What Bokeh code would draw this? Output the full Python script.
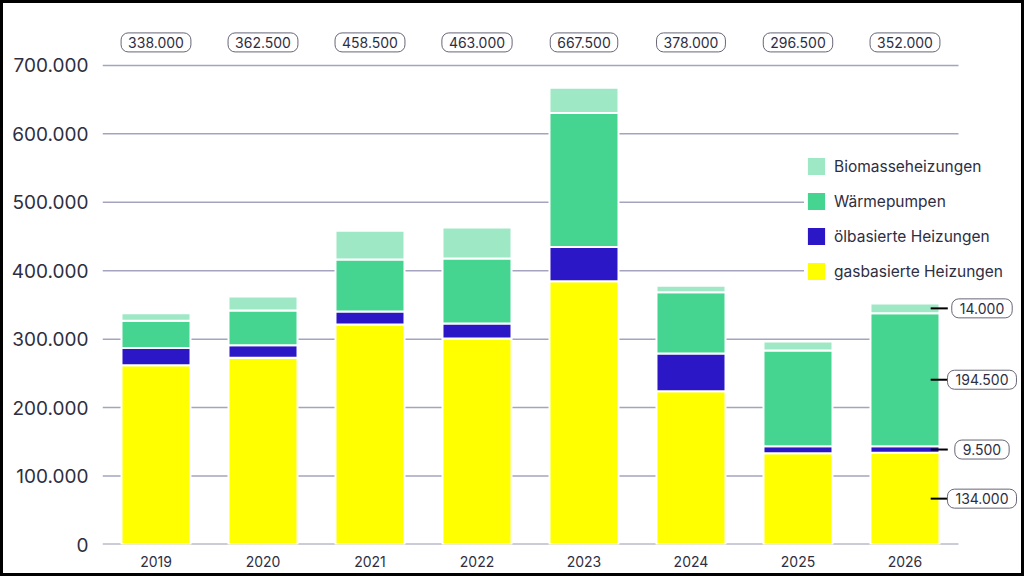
import numpy as np
from bokeh.plotting import figure
from bokeh.models import (Range1d, FixedTicker, CustomJSTickFormatter,
                          Legend, LegendItem, Label, ColumnDataSource)
from bokeh.embed import file_html
from bokeh.resources import INLINE

# ---- data ----
years = ["2019", "2020", "2021", "2022", "2023", "2024", "2025", "2026"]
gas = [262000, 273000, 321500, 301000, 384500, 224000, 133500, 134000]
oil = [25000, 18000, 19000, 22000, 50000, 55000, 10000, 9500]
heatpumps = [40000, 51000, 76000, 95000, 196000, 89500, 140000, 194500]
biomass = [11000, 20500, 42000, 45000, 37000, 9500, 13000, 14000]
totals = [338000, 362500, 458500, 463000, 667500, 378000, 296500, 352000]

series_keys = ["gas", "oil", "heatpumps", "biomass"]
series_names = ["gasbasierte Heizungen", "ölbasierte Heizungen", "Wärmepumpen", "Biomasseheizungen"]
y_ticks = [0, 100000, 200000, 300000, 400000, 500000, 600000, 700000]

colors = ["#ffff00", "#2c17c6", "#46d491", "#9ee8c5"]
FONT = "Inter"
TXT = "#2e2e42"
GRID = "#a4a4c0"

def de_fmt(v):
    return f"{int(round(v)):,}".replace(",", ".")

n = len(years)
BAR_W = 0.645
xpos = [i + 0.5 for i in range(n)]          # category slots
src = ColumnDataSource(dict(x=xpos, gas=gas, oil=oil, heatpumps=heatpumps, biomass=biomass))

W, H = 1024, 576
p = figure(x_range=Range1d(0, n + 0.645), y_range=Range1d(0, 751000),
           width=W, height=H, output_backend="svg", toolbar_location=None,
           min_border_left=99, min_border_right=0, min_border_top=27, min_border_bottom=35,
           styles={"border": "3px solid black"})
p.outline_line_color = None
p.background_fill_color = "white"
p.border_fill_color = "white"

# gridlines: the upper ones span the full category area, the lower ones stop at the last bar
last_edge = xpos[-1] + BAR_W / 2
gy = y_ticks[1:]
gx1 = [n if t >= 600000 else last_edge for t in gy]
p.segment(x0=[0] * len(gy), x1=gx1, y0=gy, y1=gy, line_color=GRID, line_width=1.5)
p.segment(x0=[0], x1=[n], y0=[0], y1=[0], line_color="#9a9ab4", line_width=2)

renderers = p.vbar_stack(series_keys, x="x", width=BAR_W, source=src, color=colors,
                         line_color="white", line_width=2)

# axes
p.yaxis.ticker = FixedTicker(ticks=y_ticks)
p.yaxis.formatter = CustomJSTickFormatter(code="""
  return String(Math.round(tick)).replace(/\\B(?=(\\d{3})+(?!\\d))/g, '.');
""")
p.yaxis.axis_line_color = None
p.yaxis.major_tick_line_color = None
p.yaxis.minor_tick_line_color = None
p.yaxis.major_label_text_font = FONT
p.yaxis.major_label_text_font_size = "19px"
p.yaxis.major_label_text_color = TXT
p.yaxis.major_label_standoff = 8

p.xaxis.ticker = FixedTicker(ticks=xpos)
p.xaxis.major_label_overrides = {x: y for x, y in zip(xpos, years)}
p.xaxis.axis_line_color = None
p.xaxis.major_tick_line_color = None
p.xaxis.minor_tick_line_color = None
p.xaxis.major_label_text_font = FONT
p.xaxis.major_label_text_font_size = "14px"
p.xaxis.major_label_text_color = TXT
p.xaxis.major_label_standoff = 5

p.xgrid.grid_line_color = None
p.ygrid.grid_line_color = None

# legend (top = Biomasse)
items = [LegendItem(label=series_names[i], renderers=[renderers[i]]) for i in [3, 2, 1, 0]]
legend = Legend(items=items, location=(702, 261), orientation="vertical",
                glyph_width=24, glyph_height=24, spacing=11, padding=0, margin=0,
                label_standoff=6, label_text_font=FONT, label_text_font_size="15.5px",
                label_text_color=TXT, background_fill_color="white", background_fill_alpha=1,
                border_line_color=None)
p.add_layout(legend, "center")

# total labels above bars
for xx, tot in zip(xpos, totals):
    p.add_layout(Label(x=xx, y=733600, text=de_fmt(tot), text_align="center",
                       text_baseline="middle", text_font=FONT, text_font_size="14px",
                       text_color=TXT, background_fill_color="white",
                       border_line_color="#666677", border_line_width=1,
                       padding=dict(left=7, right=7, top=4, bottom=4), border_radius=7))

# component labels for last year
last = n - 1
vals = [gas[last], oil[last], heatpumps[last], biomass[last]]
bottoms = np.concatenate([[0], np.cumsum(vals)[:-1]])
mids = bottoms + np.array(vals) / 2.0
center = xpos[last]
p.segment(x0=[center + 0.24] * 4, x1=[center + 0.40] * 4, y0=list(mids), y1=list(mids),
          line_color="black", line_width=2)
for v, m in zip(vals, mids):
    p.add_layout(Label(x=center, y=float(m), x_offset=77, text=de_fmt(v),
                       text_align="center", text_baseline="middle", text_font=FONT,
                       text_font_size="14px", text_color=TXT, background_fill_color="white",
                       border_line_color="#666677", border_line_width=1,
                       padding=dict(left=8, right=8, top=4, bottom=4), border_radius=7))

open("out.html", "w").write(file_html(p, INLINE))
